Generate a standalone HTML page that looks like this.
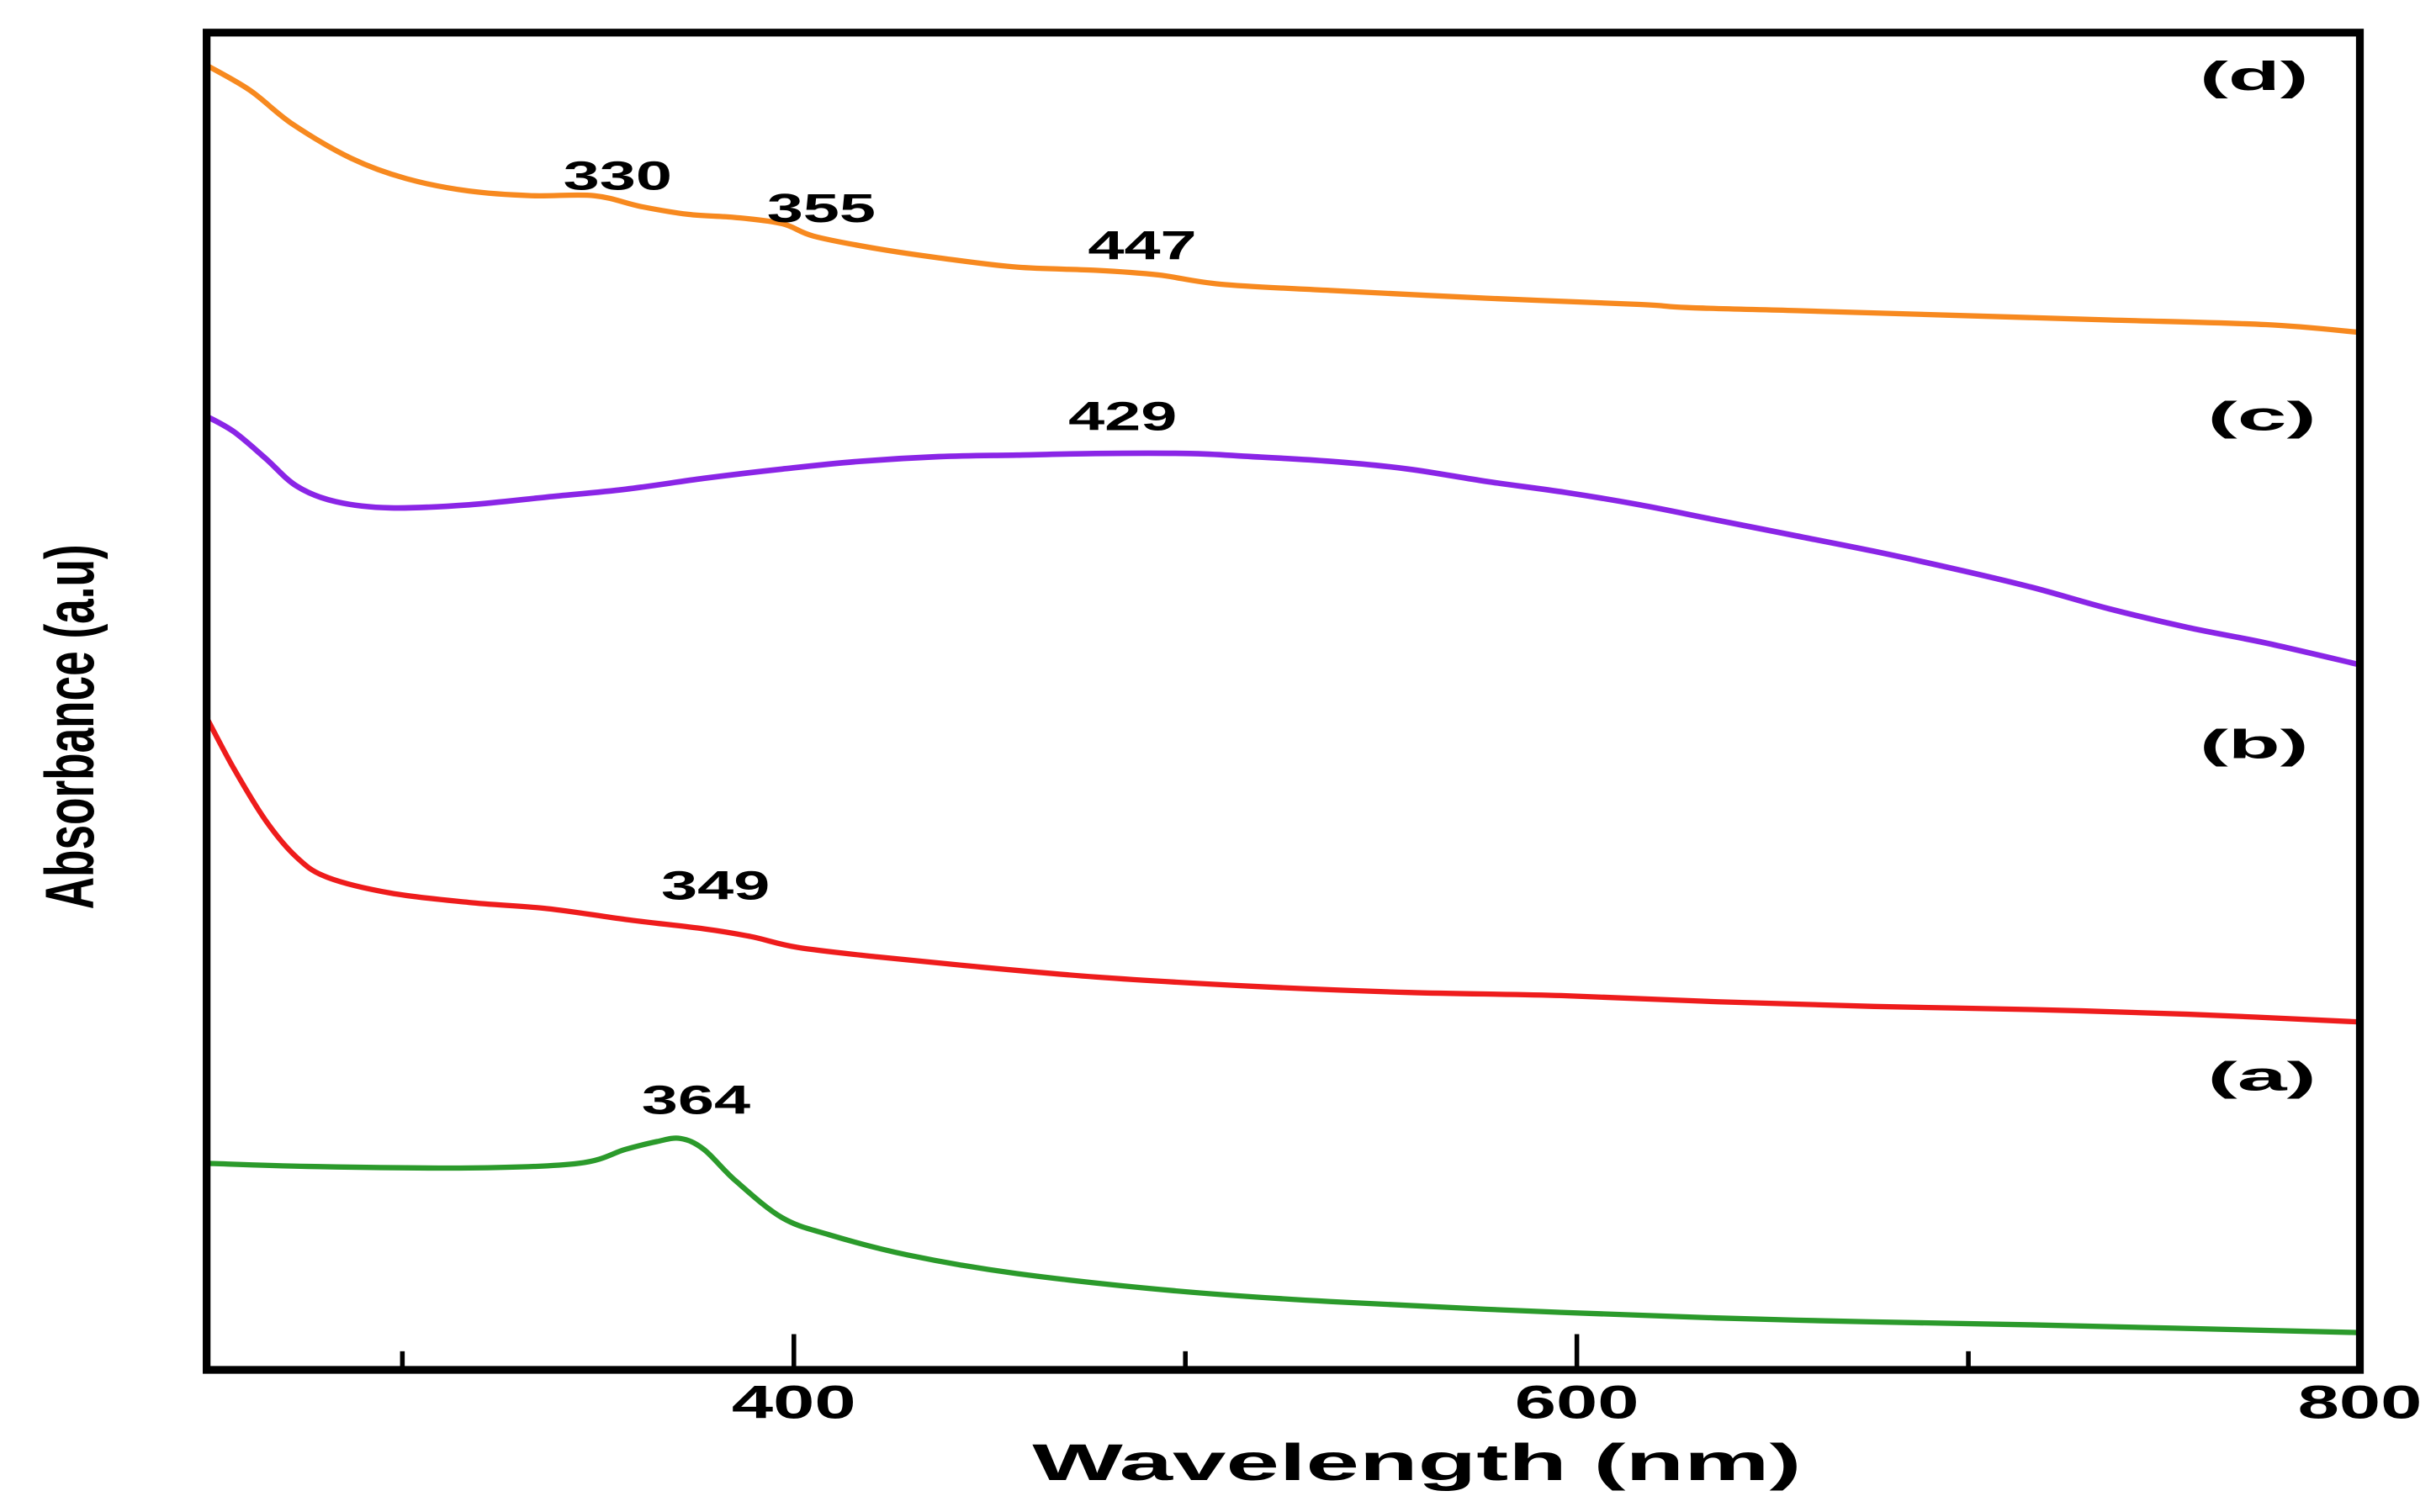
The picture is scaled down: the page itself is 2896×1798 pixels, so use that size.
<!DOCTYPE html>
<html><head><meta charset="utf-8"><style>
html,body{margin:0;padding:0;background:#fff;}
svg{display:block;}
text{font-family:"Liberation Sans",Arial,sans-serif;font-weight:bold;fill:#000;}
</style></head><body>
<svg id="chart" width="2896" height="1798" viewBox="0 0 1568 973.5" preserveAspectRatio="none" xmlns="http://www.w3.org/2000/svg">
<g id="curves"></g>
<rect x="133" y="21" width="1386" height="861" fill="none" stroke="#000" stroke-width="5"/>
<g id="ticks"></g>
<text x="912" y="953" text-anchor="middle" font-size="33" textLength="495" lengthAdjust="spacingAndGlyphs">Wavelength (nm)</text>
<text transform="translate(60,468) rotate(-90)" text-anchor="middle" font-size="44" textLength="235" lengthAdjust="spacingAndGlyphs">Absorbance (a.u)</text>
<g id="ann"></g>
</svg>
<script>
const xTicksMajor=[400,600,800];
const xTicksMinor=[300,500,700];
const nmD=[250,261,272,287,301,317,333,349,361,373,385,397,405,421,437,457,477,493,509,537,577,616,628,656,696,736,776,800];
const vD=[840,824,802,780,767,759,756,756,749,744,742,738,730,722,716,710,708,705,699,695,690,686,684,682,679,676,673,668];
const nmC=[250,257,265,273,283,297,317,337,357,377,397,417,437,457,477,501,517,537,557,577,597,616,636,656,676,696,716,736,756,776,800];
const vC=[614,604,587,569,559,555,557,562,567,574,580,585,588,589,590,590,588,585,580,572,565,557,547,537,527,516,504,490,478,468,454];
const nmB=[250,257,265,273,281,297,317,337,357,377,389,401,421,445,477,517,557,596,636,676,716,756,800];
const vB=[420,387,354,330,317,307,301,297,290,284,279,272,266,260,253,247,243,241,237,234,232,229,224];
const nmA=[250,276,317,345,357,365,371,377,385,397,409,429,457,497,537,596,656,716,800];
const vA=[133,131,130,133,142,147,149,142,122,98,87,74,62,51,44,37,32,29,24];
const series=[
 {name:'curve-d',nm:nmD,v:vD,color:'#f7891f',w:3.4},
 {name:'curve-c',nm:nmC,v:vC,color:'#8a25e6',w:3.6},
 {name:'curve-b',nm:nmB,v:vB,color:'#ee1c1c',w:3.4},
 {name:'curve-a',nm:nmA,v:vA,color:'#2b9a2b',w:3.4}];
const annText=['330','355','447','429','349','364','(d)','(c)','(b)','(a)'];
const annNm=[355,407,489,484,380,375,773,775,773,775];
const annV=[760,739,715,605,303,165,824,605,394,180];
const svgNS='http://www.w3.org/2000/svg';
function X(nm){return 133+(nm-250)*2.52;}
function Y(v){return 882-v;}
function smoothPath(px,py){
  let d='M'+px[0].toFixed(1)+','+py[0].toFixed(1);
  for(let i=0;i<px.length-1;i++){
    const i0=Math.max(0,i-1),i3=Math.min(px.length-1,i+2);
    const c1x=px[i]+(px[i+1]-px[i0])/6,c1y=py[i]+(py[i+1]-py[i0])/6;
    const c2x=px[i+1]-(px[i3]-px[i])/6,c2y=py[i+1]-(py[i3]-py[i])/6;
    d+='C'+c1x.toFixed(1)+','+c1y.toFixed(1)+' '+c2x.toFixed(1)+','+c2y.toFixed(1)+' '+px[i+1].toFixed(1)+','+py[i+1].toFixed(1);
  }
  return d;
}
const cg=document.getElementById('curves');
series.forEach(s=>{
  const p=document.createElementNS(svgNS,'path');
  p.setAttribute('d',smoothPath(s.nm.map(X),s.v.map(Y)));
  p.setAttribute('fill','none');p.setAttribute('stroke',s.color);
  p.setAttribute('stroke-width',s.w);p.setAttribute('stroke-linejoin','round');p.setAttribute('stroke-linecap','round');
  
  
  cg.appendChild(p);
});
const tg=document.getElementById('ticks');
xTicksMajor.forEach(t=>{
  const l=document.createElementNS(svgNS,'line');
  l.setAttribute('x1',X(t));l.setAttribute('x2',X(t));l.setAttribute('y1',882);l.setAttribute('y2',859);
  l.setAttribute('stroke','#000');l.setAttribute('stroke-width',3);
  
  
  tg.appendChild(l);
  const tx=document.createElementNS(svgNS,'text');
  tx.setAttribute('x',X(t));tx.setAttribute('y',913);tx.setAttribute('text-anchor','middle');tx.setAttribute('font-size','30');
  tx.setAttribute('textLength','80');tx.setAttribute('lengthAdjust','spacingAndGlyphs');
  tx.textContent=t;
  
  
  tg.appendChild(tx);
});
xTicksMinor.forEach(t=>{
  const l=document.createElementNS(svgNS,'line');
  l.setAttribute('x1',X(t));l.setAttribute('x2',X(t));l.setAttribute('y1',882);l.setAttribute('y2',870);
  l.setAttribute('stroke','#000');l.setAttribute('stroke-width',3);
  
  
  tg.appendChild(l);
});
const ag=document.getElementById('ann');
annText.forEach((a,i)=>{
  const tx=document.createElementNS(svgNS,'text');
  tx.setAttribute('x',X(annNm[i]));tx.setAttribute('y',Y(annV[i]));
  tx.setAttribute('text-anchor','middle');tx.setAttribute('font-size','26');
  tx.setAttribute('textLength','70');tx.setAttribute('lengthAdjust','spacingAndGlyphs');
  tx.textContent=a;
  
  
  ag.appendChild(tx);
});
</script>
</body></html>
